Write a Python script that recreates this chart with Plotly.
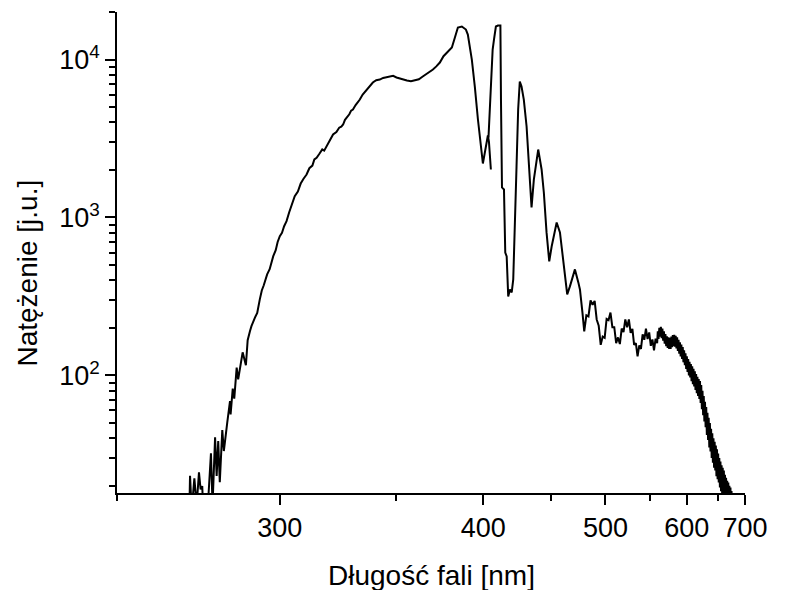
import math
import plotly.graph_objects as go

# ---- data (wavelength in nm, intensity in arb. units) ----
# Segment A: UV rise, 340-390 nm band, dip near 400 nm
uv_wavelength = [
    270.0, 270.2, 270.7, 271.5, 272.2, 272.9, 273.4, 273.9, 274.2, 275.8,
    276.6, 277.1, 277.9, 278.4, 278.9, 279.4, 280.2, 280.7, 281.8, 282.7,
    282.9, 283.6, 284.1, 284.9, 285.4, 286.9, 288.0, 288.6, 289.4, 289.9,
    291.1, 291.9, 292.8, 293.5, 294.2, 295.4, 296.3, 297.0, 297.6, 298.5,
    299.2, 300.0, 300.8, 301.6, 302.5, 303.5, 304.4, 305.6, 306.8, 307.9,
    309.0, 310.2, 311.3, 312.5, 313.3, 314.2, 315.4, 316.5, 317.3, 318.3,
    319.5, 320.3, 321.0, 322.4, 323.6, 324.5, 325.3, 326.1, 326.9, 328.0,
    328.8, 329.6, 330.8, 331.8, 332.7, 334.0, 335.0, 335.9, 337.3, 338.7,
    340.3, 342.0, 343.6, 345.2, 346.9, 348.5, 350.2, 351.9, 353.7, 355.5,
    357.6, 359.7, 361.8, 363.9, 366.7, 369.5, 371.4, 373.4, 375.5, 377.5,
    379.0, 380.4, 382.2, 384.0, 386.4, 388.9, 390.1, 392.6, 394.5, 396.5,
    399.7, 403.0, 403.7, 405.0,
]
uv_intensity = [
    14, 23.1, 14, 22.3, 15, 24.3, 19.0, 19.9, 14, 17,
    32.1, 15, 40.5, 23.1, 38.4, 21.1, 45.1, 33.2, 50.2, 68.7,
    56.6, 82.4, 71.2, 112, 94.4, 140, 116, 167, 191, 205,
    232, 249, 303, 345, 372, 436, 470, 530, 569, 620,
    700, 762, 800, 880, 948, 1080, 1190, 1364, 1460, 1640,
    1760, 1871, 2050, 2130, 2330, 2387, 2540, 2700, 2650, 2826,
    3050, 3200, 3352, 3480, 3700, 3760, 3878, 4150, 4295, 4500,
    4750, 4828, 5150, 5350, 5580, 6000, 6250, 6457, 6850, 7150,
    7400, 7470, 7650, 7720, 7805, 7880, 7700, 7580, 7450, 7365,
    7300, 7365, 7500, 7805, 8200, 8640, 9050, 9570, 10500, 11080,
    11500, 11910, 13780, 15950, 16180, 15490, 14390, 10000, 6745, 4171,
    2196, 3304, 3027, 2013,
]

# Segment B: saturated 405 nm line and the sharp lines down to ~475 nm
line_wavelength = [
    403.4, 404.7, 405.5, 406.2, 407.1, 408.4, 409.8, 411.5, 411.9, 412.6,
    414.0, 414.9, 415.9, 417.0, 418.2, 419.5, 420.6, 421.8, 423.0, 424.2,
    425.4, 426.7, 428.4, 430.5, 432.5, 434.3, 436.1, 439.5, 442.2, 444.0,
    446.2, 448.4, 450.4, 454.6, 457.4, 459.7, 461.7, 463.7, 466.1, 470.6,
    473.7, 475.2, 477.5,
]
line_intensity = [
    3209, 5580, 8270, 11570, 13390, 16180, 16410, 16410, 5580, 1549,
    1504, 600, 566, 316, 350, 335, 405, 804, 2103, 4828,
    7260, 6745, 5580, 3766, 2103, 1157, 1741, 2693, 2013, 1440,
    804, 527, 655, 929, 804, 566, 423, 326, 366, 469,
    388, 350, 251,
]

# Segment C: noisy visible plateau (continues segment B)
plateau_wavelength = [
    479.2, 481.2, 483.2, 485.2, 487.2, 489.2, 491.2, 493.2, 495.2, 497.2,
    499.2, 501.2, 503.2, 505.2, 507.2, 509.2, 511.2, 513.2, 515.2, 517.2,
    519.2, 521.2, 523.2, 525.2, 527.2, 529.2, 531.2, 533.2, 535.2, 537.2,
    539.2, 541.2, 543.2, 545.2, 547.2, 549.2, 551.2, 553.2, 555.2, 557.2,
    559.2,
]
plateau_intensity = [
    190, 240, 236, 298, 280, 296, 226, 206, 156, 176,
    173, 228, 224, 250, 202, 202, 160, 174, 158, 198,
    188, 226, 202, 226, 186, 197, 156, 160, 132, 155,
    147, 182, 168, 198, 170, 187, 154, 169, 144, 171,
    160,
]

# Segment D: noisy red tail (continues segment C)
tail_wavelength = [
    560.0, 561.0, 562.0, 563.0, 564.0, 565.0, 566.0, 567.0, 568.0, 569.0,
    570.0, 571.0, 572.0, 573.0, 574.0, 575.0, 576.0, 577.0, 578.0, 579.0,
    580.0, 581.0, 582.0, 583.0, 584.0, 585.0, 586.0, 587.0, 588.0, 589.0,
    590.0, 591.0, 592.0, 593.0, 594.0, 595.0, 596.0, 597.0, 598.0, 599.0,
    600.0, 601.0, 602.0, 603.0, 604.0, 605.0, 606.0, 607.0, 608.0, 609.0,
    610.0, 611.0, 612.0, 613.0, 614.0, 615.0, 616.0, 617.0, 618.0, 619.0,
    620.0, 621.0, 622.0, 623.0, 624.0, 625.0, 626.0, 627.0, 628.0, 629.0,
    630.0, 631.0, 632.0, 633.0, 634.0, 635.0, 636.0, 637.0, 638.0, 639.0,
    640.0, 641.0, 642.0, 643.0, 644.0, 645.0, 646.0, 647.0, 648.0, 649.0,
    650.0, 651.0, 652.0, 653.0, 654.0, 655.0, 656.0, 657.0, 658.0, 659.0,
    660.0, 661.0, 662.0, 663.0, 664.0, 665.0, 666.0, 667.0, 668.0, 669.0,
    670.0, 671.0, 672.0, 673.0, 674.0, 675.0,
]
tail_intensity = [
    190, 170, 200, 176, 203, 172, 198, 166, 190, 159,
    183, 153, 177, 149, 174, 147, 173, 147, 176, 151,
    180, 153, 181, 152, 178, 148, 174, 143, 168, 137,
    162, 132, 157, 127, 151, 121, 144, 116, 138, 110,
    132, 105, 127, 100, 122, 97, 118, 92, 114, 88,
    110, 85, 106, 81, 102, 77, 98, 74, 95, 71,
    92, 67, 87, 61, 80, 56, 74, 51, 68, 47,
    63, 42, 58, 39, 54, 35, 50, 33, 46, 30,
    43, 28, 40, 26, 38, 25, 36, 23, 34, 22,
    32, 21, 30, 19.5, 28.5, 18.5, 27, 17.5, 26, 16.5,
    25, 16, 23.5, 15, 22.5, 14.5, 21.5, 14, 21, 13.5,
    20, 13, 19.5, 12.5, 18.5, 12,
]

x_tick_nm = [300, 400, 500, 600, 700]
x_minor_nm = [250, 350, 450, 550, 650]
x_range_nm = [250, 700]
y_tick_vals = [100, 1000, 10000]
y_tick_text = ["10<sup>2</sup>", "10<sup>3</sup>", "10<sup>4</sup>"]
y_range = [18, 20000]

x_title = "Długość fali [nm]"
y_title = "Natężenie [j.u.]"

# two pieces of the spliced spectrum, separated by a gap
wavelength_nm = (uv_wavelength + [None] + line_wavelength
                 + plateau_wavelength + tail_wavelength)
intensity = (uv_intensity + [None] + line_intensity
             + plateau_intensity + tail_intensity)


# ---- reciprocal wavelength axis (linear in 1/λ, drawn as 1000/λ reversed) ----
def inv(w):
    return None if w is None else 1000.0 / w


xs = [inv(w) for w in wavelength_nm]

y_minor = []
for dec in [10, 100, 1000, 10000]:
    for m in range(2, 10):
        v = m * dec
        if y_range[0] <= v <= y_range[1]:
            y_minor.append(v)

FONT = "Liberation Sans, Arial, Helvetica, sans-serif"

fig = go.Figure()
fig.add_trace(go.Scatter(
    x=xs, y=intensity, mode="lines",
    line=dict(color="black", width=2),
    connectgaps=False, showlegend=False, hoverinfo="skip",
))

axis_common = dict(
    ticks="outside", ticklen=10, tickwidth=1.5, tickcolor="black",
    showline=True, linecolor="black", linewidth=1.5,
    showgrid=False, zeroline=False,
    tickfont=dict(size=27),
)

fig.update_layout(
    width=796, height=590,
    margin=dict(l=117, r=51, t=12, b=97),
    paper_bgcolor="white", plot_bgcolor="white",
    font=dict(family=FONT, size=27, color="black"),
    xaxis=dict(
        range=[inv(x_range_nm[0]), inv(x_range_nm[1])],
        tickmode="array",
        tickvals=[inv(v) for v in x_tick_nm],
        ticktext=[str(v) for v in x_tick_nm],
        minor=dict(tickmode="array", tickvals=[inv(v) for v in x_minor_nm],
                   ticks="outside", ticklen=6, tickwidth=1.5, tickcolor="black",
                   showgrid=False),
        **axis_common,
    ),
    yaxis=dict(
        type="log",
        range=[math.log10(y_range[0]), math.log10(y_range[1])],
        tickmode="array",
        tickvals=y_tick_vals, ticktext=y_tick_text,
        minor=dict(tickmode="array", tickvals=y_minor,
                   ticks="outside", ticklen=6, tickwidth=1.5, tickcolor="black",
                   showgrid=False),
        **axis_common,
    ),
    annotations=[
        dict(text=x_title, xref="paper", yref="paper", x=0.5, y=-0.172,
             xanchor="center", yanchor="middle", showarrow=False,
             font=dict(size=28)),
        dict(text=y_title, xref="paper", yref="paper", x=-0.142, y=0.458,
             xanchor="center", yanchor="middle", showarrow=False,
             textangle=-90, font=dict(size=28)),
    ],
)

fig.write_html("out.html")
